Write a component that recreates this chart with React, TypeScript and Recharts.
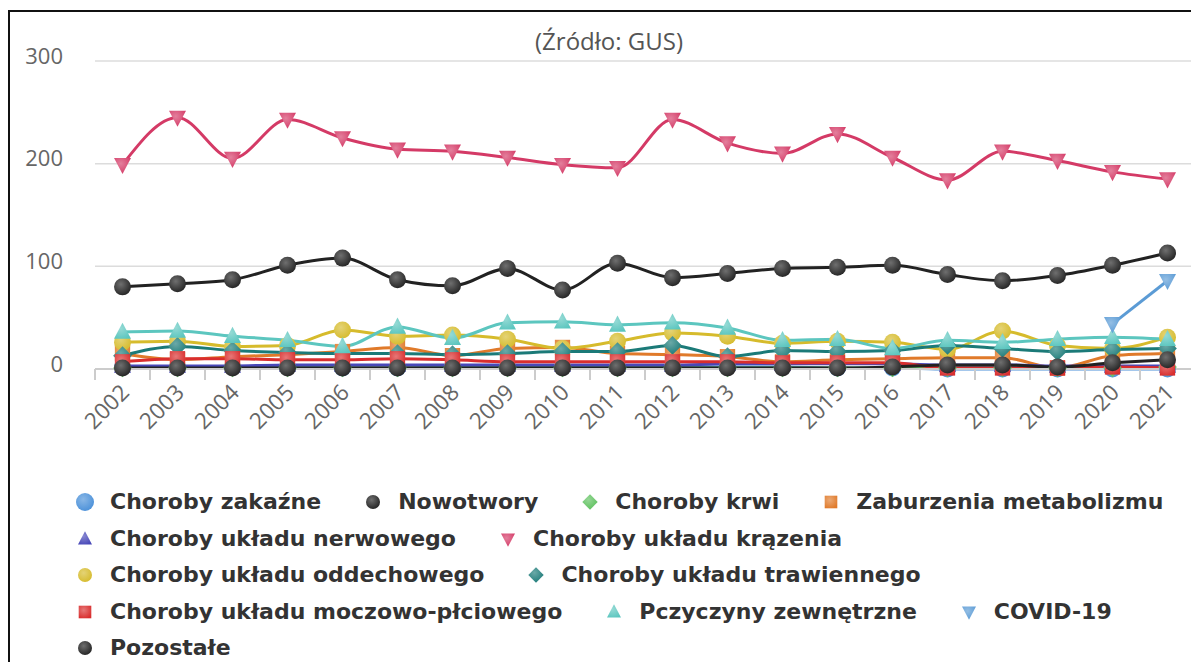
import React from "react";
import { LineChart, Line, XAxis, YAxis, CartesianGrid } from "recharts";

const years = ["2002", "2003", "2004", "2005", "2006", "2007", "2008", "2009", "2010", "2011", "2012", "2013", "2014", "2015", "2016", "2017", "2018", "2019", "2020", "2021"];
const yTicks = [0, 100, 200, 300];

const zakazne = [2, 2, 2, 2, 1, 1, 2, 2, 2, 2, 2, 2, 2, 1, 1, 0, 0, 0, 0, 0];
const nowotwory = [80, 83, 87, 101, 108, 87, 81, 98, 77, 103, 89, 93, 98, 99, 101, 92, 86, 91, 101, 113];
const krwi = [1, 1, 1, 1, 1, 1, 1, 1, 1, 1, 1, 1, 1, 1, 1, 1, 1, 1, 1, 2];
const metabolizm = [15, 9, 12, 14, 17, 21, 13, 20, 21, 15, 14, 12, 7, 9, 10, 11, 11, 1, 13, 15];
const nerwowy = [3, 3, 3, 4, 4, 4, 4, 4, 4, 4, 4, 5, 5, 5, 5, 4, 4, 3, 3, 3];
const krazenie = [199, 245, 205, 243, 225, 214, 212, 206, 199, 196, 243, 220, 210, 229, 206, 184, 212, 203, 192, 185];
const oddechowy = [26, 27, 22, 23, 38, 32, 33, 29, 20, 27, 35, 32, 25, 27, 26, 19, 37, 23, 20, 31];
const trawienny = [13, 22, 18, 16, 15, 15, 14, 15, 17, 17, 23, 12, 18, 17, 18, 23, 20, 17, 19, 20];
const moczowy = [7, 10, 10, 9, 9, 10, 9, 7, 7, 7, 7, 7, 6, 6, 6, 1, 1, 1, 2, 1];
const zewnetrzne = [36, 37, 32, 28, 22, 41, 30, 45, 46, 43, 45, 40, 28, 29, 20, 28, 26, 29, 31, 29];
const covid = [null, null, null, null, null, null, null, null, null, null, null, null, null, null, null, null, null, null, 44, 86];
const pozostale = [1, 1, 1, 1, 1, 1, 1, 1, 1, 1, 1, 1, 1, 1, 2, 4, 4, 2, 6, 9];

type Kind = "circle" | "square" | "diamond" | "triangle" | "triangleDown";

const series: { key: string; name: string; values: (number | null)[]; color: string; kind: Kind }[] = [
  { key: "zakazne", name: "Choroby zakaźne", values: zakazne, color: "#4a90d9", kind: "circle" },
  { key: "nowotwory", name: "Nowotwory", values: nowotwory, color: "#222222", kind: "circle" },
  { key: "krwi", name: "Choroby krwi", values: krwi, color: "#5cc05c", kind: "diamond" },
  { key: "metabolizm", name: "Zaburzenia metabolizmu", values: metabolizm, color: "#e07a2a", kind: "square" },
  { key: "nerwowy", name: "Choroby układu nerwowego", values: nerwowy, color: "#4848b8", kind: "triangle" },
  { key: "krazenie", name: "Choroby układu krązenia", values: krazenie, color: "#d43a66", kind: "triangleDown" },
  { key: "oddechowy", name: "Choroby układu oddechowego", values: oddechowy, color: "#d6bb2c", kind: "circle" },
  { key: "trawienny", name: "Choroby układu trawiennego", values: trawienny, color: "#1b7a78", kind: "diamond" },
  { key: "moczowy", name: "Choroby układu moczowo-płciowego", values: moczowy, color: "#d92e2e", kind: "square" },
  { key: "zewnetrzne", name: "Pczyczyny zewnętrzne", values: zewnetrzne, color: "#5cc6bf", kind: "triangle" },
  { key: "covid", name: "COVID-19", values: covid, color: "#5b9bd5", kind: "triangleDown" },
  { key: "pozostale", name: "Pozostałe", values: pozostale, color: "#222222", kind: "circle" },
];

const data = years.map((year, i) => {
  const row: Record<string, string | number | null> = { year };
  series.forEach((s) => (row[s.key] = s.values[i]));
  return row;
});

const CHART_W = 1260;
const CHART_H = 480;
const X_AXIS_H = 30;
const MARGIN = { top: 61, right: 65, bottom: 111 - X_AXIS_H, left: 35 };
const PLOT_W = CHART_W - MARGIN.left - 60 - MARGIN.right;
const BAND = PLOT_W / years.length;

function mix(hex: string, t: number) {
  const n = parseInt(hex.slice(1), 16);
  const r = (n >> 16) & 255, g = (n >> 8) & 255, b = n & 255;
  const f = (c: number) => Math.round(c + (255 - c) * t);
  return `rgb(${f(r)},${f(g)},${f(b)})`;
}

function shape(kind: Kind, cx: number, cy: number, s: number, fill: string, key?: string) {
  if (kind === "circle") return <circle key={key} cx={cx} cy={cy} r={s} fill={fill} />;
  if (kind === "square") return <rect key={key} x={cx - s * 0.9} y={cy - s * 0.9} width={s * 1.8} height={s * 1.8} fill={fill} />;
  if (kind === "diamond")
    return <polygon key={key} points={`${cx},${cy - s * 1.1} ${cx + s * 1.1},${cy} ${cx},${cy + s * 1.1} ${cx - s * 1.1},${cy}`} fill={fill} />;
  if (kind === "triangle")
    return <polygon key={key} points={`${cx},${cy - s * 1.1} ${cx + s},${cy + s * 0.8} ${cx - s},${cy + s * 0.8}`} fill={fill} />;
  return <polygon key={key} points={`${cx},${cy + s * 1.1} ${cx + s},${cy - s * 0.8} ${cx - s},${cy - s * 0.8}`} fill={fill} />;
}

function makeDot(key: string, kind: Kind) {
  return (props: any) => {
    const { cx, cy, value, index } = props;
    if (value == null || cx == null || cy == null) return <g key={`${key}-${index}`} />;
    return shape(kind, cx, cy, 8.5, `url(#g-${key})`, `${key}-${index}`);
  };
}

function XTick(props: any) {
  const { x, y, payload, index } = props;
  const tx = x + 8;
  const ty = y + 25;
  return (
    <g>
      <line x1={x - BAND / 2} x2={x - BAND / 2} y1={y} y2={y + 11} stroke="#cccccc" strokeWidth={2} />
      {index === years.length - 1 && <line x1={x + BAND / 2} x2={x + BAND / 2} y1={y} y2={y + 11} stroke="#cccccc" strokeWidth={2} />}
      <text x={tx} y={ty} transform={`rotate(-45 ${tx} ${ty})`} textAnchor="end" fill="#666" fontSize={22.5} fontFamily="Open Sans">
        {payload.value}
      </text>
    </g>
  );
}

function Legend() {
  return (
    <div
      style={{
        position: "absolute",
        left: 73,
        top: 484,
        width: 1112,
        display: "flex",
        flexWrap: "wrap",
        columnGap: 40,
        lineHeight: "36.5px",
        fontFamily: "DejaVu Sans",
        fontWeight: "bold",
        fontSize: 22,
        color: "#333",
      }}
    >
      {series.map((s) => (
        <div key={s.key} style={{ display: "flex", alignItems: "center", whiteSpace: "nowrap" }}>
          <svg width={24} height={24} style={{ marginRight: 13 }}>
            {shape(s.kind, 12, 12, s.key === "zakazne" ? 9 : 7, `url(#g-${s.key})`)}
          </svg>
          {s.name}
        </div>
      ))}
    </div>
  );
}

export default function App() {
  return (
    <div style={{ position: "fixed", left: 0, top: 0, width: 1191, height: 662, overflow: "hidden", background: "#fff" }}>
      <svg width={0} height={0} style={{ position: "absolute" }}>
        <defs>
          {series.map((s) => (
            <radialGradient key={s.key} id={`g-${s.key}`} cx="0.4" cy="0.35" r="0.7">
              <stop offset="0%" stopColor={mix(s.color, 0.35)} />
              <stop offset="100%" stopColor={s.color} />
            </radialGradient>
          ))}
        </defs>
      </svg>
      <div style={{ position: "absolute", left: 8, top: 10, width: 1300, height: 800, border: "2px solid #111", boxSizing: "border-box" }} />
      <div style={{ position: "absolute", left: 0, top: 24, width: 1218, textAlign: "center", fontFamily: "Open Sans", fontSize: 24, color: "#555" }}>
        (Źródło: GUS)
      </div>
      <div style={{ position: "absolute", left: 0, top: 0 }}>
        <LineChart width={CHART_W} height={CHART_H} data={data} margin={MARGIN}>
          <CartesianGrid vertical={false} stroke="#dcdcdc" strokeWidth={1.5} />
          <XAxis
            dataKey="year"
            height={X_AXIS_H}
            interval={0}
            tickSize={0}
            tickMargin={0}
            tickLine={false}
            axisLine={{ stroke: "#cccccc", strokeWidth: 2 }}
            padding={{ left: BAND / 2, right: BAND / 2 }}
            tick={<XTick />}
          />
          <YAxis
            width={60}
            domain={[0, 300]}
            ticks={yTicks}
            axisLine={false}
            tickLine={false}
            tickSize={0}
            tickMargin={32}
            dy={-5}
            tick={{ fill: "#666", fontSize: 22, fontFamily: "Open Sans" }}
          />
          {series.map((s) => (
            <Line
              key={s.key}
              type="monotone"
              dataKey={s.key}
              name={s.name}
              stroke={s.color}
              strokeWidth={3}
              dot={makeDot(s.key, s.kind)}
              activeDot={false}
              isAnimationActive={false}
            />
          ))}
        </LineChart>
      </div>
      <Legend />
    </div>
  );
}
